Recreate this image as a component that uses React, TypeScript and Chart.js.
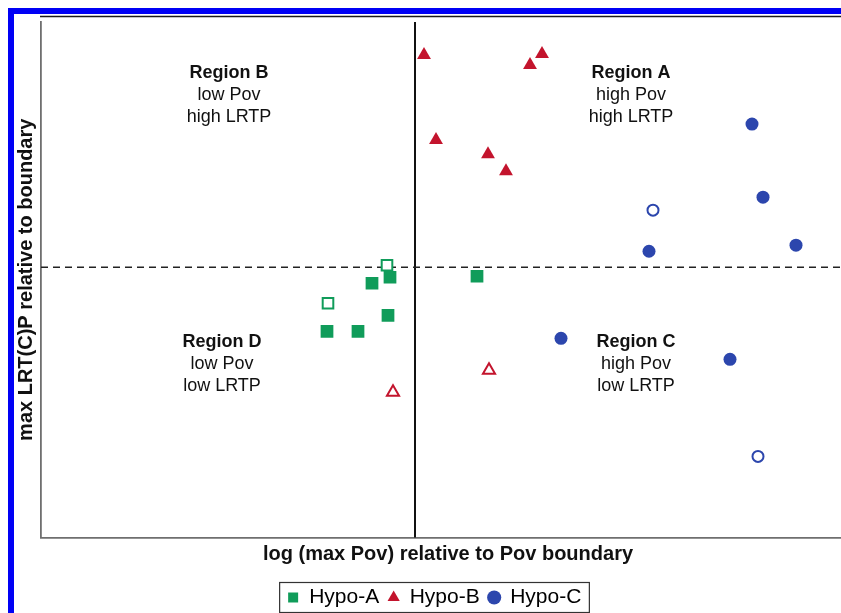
import { useEffect, useRef } from 'react';
import { Chart, registerables } from 'chart.js';

Chart.register(...registerables);

// ---- data (x: log(max Pov) relative to boundary, y: max LRT(C)P relative to boundary)
const seriesNames = ['Hypo-A', 'Hypo-B', 'Hypo-C'];

const hypoAX = [-0.43, -0.25, -0.88, -0.57, -0.27, 0.62, -0.28, -0.87];
const hypoAY = [-0.16, -0.10, -0.64, -0.64, -0.48, -0.09, 0.02, -0.36];
const hypoAOpen = [false, false, false, false, false, false, true, true];

const hypoBX = [0.09, 1.15, 1.27, 0.21, 0.73, 0.91, -0.22, 0.74];
const hypoBY = [2.12, 2.02, 2.13, 1.27, 1.13, 0.96, -1.25, -1.03];
const hypoBOpen = [false, false, false, false, false, false, true, true];

const hypoCX = [3.37, 3.48, 3.81, 2.34, 1.46, 3.15, 2.38, 3.43];
const hypoCY = [1.43, 0.70, 0.22, 0.16, -0.71, -0.92, 0.57, -1.89];
const hypoCOpen = [false, false, false, false, false, false, true, true];

const xRange = [-3.74, 4.40];
const yRange = [-2.70, 2.45];

const regionTitles = ['Region A', 'Region B', 'Region C', 'Region D'];
const regionLine1 = ['high Pov', 'low Pov', 'high Pov', 'low Pov'];
const regionLine2 = ['high LRTP', 'high LRTP', 'low LRTP', 'low LRTP'];
const regionX = [2.16, -1.86, 2.21, -1.93];
const regionY = [1.94, 1.94, -0.75, -0.75];

const xTitle = 'log (max Pov) relative to Pov boundary';
const yTitle = 'max LRT(C)P relative to boundary';

const FONT = '"Liberation Sans", Arial, Helvetica, sans-serif';
const GREEN = '#109c5a';
const RED = '#c3142d';
const BLUE = '#2c46ad';

const zip = (xs: number[], ys: number[]) => xs.map((x, i) => ({ x, y: ys[i] }));

const overlayPlugin = {
  id: 'overlay',
  beforeDatasetsDraw(chart: any) {
    const { ctx, chartArea: ca, scales } = chart;
    const xs = scales.x;
    const ys = scales.y;
    ctx.save();
    // top frame line
    ctx.strokeStyle = '#1a1a1a';
    ctx.lineWidth = 1.5;
    ctx.beginPath();
    ctx.moveTo(ca.left - 1, 2.5);
    ctx.lineTo(chart.width, 2.5);
    ctx.stroke();
    // vertical boundary
    const x0 = xs.getPixelForValue(0);
    ctx.strokeStyle = '#111';
    ctx.lineWidth = 2;
    ctx.beginPath();
    ctx.moveTo(x0, ca.top);
    ctx.lineTo(x0, ca.bottom);
    ctx.stroke();
    // dashed horizontal boundary
    const y0 = ys.getPixelForValue(0);
    ctx.setLineDash([7, 5]);
    ctx.lineWidth = 1.5;
    ctx.strokeStyle = '#222';
    ctx.beginPath();
    ctx.moveTo(ca.left, y0);
    ctx.lineTo(ca.right, y0);
    ctx.stroke();
    ctx.setLineDash([]);
    // region labels
    ctx.fillStyle = '#111';
    ctx.textAlign = 'center';
    ctx.textBaseline = 'middle';
    regionTitles.forEach((t, i) => {
      const px = xs.getPixelForValue(regionX[i]);
      const py = ys.getPixelForValue(regionY[i]);
      ctx.font = `bold 18px ${FONT}`;
      ctx.fillText(t, px, py);
      ctx.font = `18px ${FONT}`;
      ctx.fillText(regionLine1[i], px, py + 22);
      ctx.fillText(regionLine2[i], px, py + 44);
    });
    ctx.restore();
  },
  afterDraw(chart: any) {
    const lg = chart.legend;
    if (!lg || !lg.legendHitBoxes || !lg.legendHitBoxes.length) return;
    const boxes = lg.legendHitBoxes;
    const left = Math.min(...boxes.map((b: any) => b.left));
    const right = Math.max(...boxes.map((b: any) => b.left + b.width));
    const top = Math.min(...boxes.map((b: any) => b.top));
    const bottom = Math.max(...boxes.map((b: any) => b.top + b.height));
    const { ctx } = chart;
    ctx.save();
    ctx.strokeStyle = '#333';
    ctx.lineWidth = 1.2;
    ctx.strokeRect(left - 8, top - 4.5, right - left + 16, bottom - top + 9);
    ctx.restore();
  },
};

export default function App() {
  const ref = useRef<HTMLCanvasElement | null>(null);

  useEffect(() => {
    if (!ref.current) return;
    const mk = (label: string, xs: number[], ys: number[], open: boolean[], color: string, style: string, rFilled: number, rOpen: number) => ({
      label,
      data: zip(xs, ys),
      showLine: false,
      pointStyle: style,
      pointRadius: (c: any) => (open[c.dataIndex] ? rOpen : rFilled),
      pointBackgroundColor: (c: any) => (open[c.dataIndex] ? '#ffffff' : color),
      pointBorderColor: color,
      pointBorderWidth: (c: any) => (open[c.dataIndex] ? 2 : 0),
      backgroundColor: color,
      borderColor: color,
      borderWidth: 0,
    });
    const chart = new Chart(ref.current, {
      type: 'scatter',
      data: {
        datasets: [
          mk(seriesNames[0], hypoAX, hypoAY, hypoAOpen, GREEN, 'rect', 9, 7.5),
          mk(seriesNames[1], hypoBX, hypoBY, hypoBOpen, RED, 'triangle', 8, 7),
          mk(seriesNames[2], hypoCX, hypoCY, hypoCOpen, BLUE, 'circle', 6.5, 5.5),
        ] as any,
      },
      options: {
        animation: false,
        responsive: false,
        events: [],
        layout: { autoPadding: false, padding: { top: 8, left: 0, right: 0, bottom: 0 } },
        scales: {
          x: {
            type: 'linear',
            min: xRange[0],
            max: xRange[1],
            grid: { display: false, drawTicks: false },
            border: { display: true, color: '#6f6f6f', width: 1.8 },
            ticks: { display: false },
            title: {
              display: true,
              text: xTitle,
              color: '#111',
              font: { family: FONT, size: 20, weight: 'bold' },
              padding: { top: 5, bottom: 11.5 },
            },
          },
          y: {
            type: 'linear',
            min: yRange[0],
            max: yRange[1],
            grid: { display: false, drawTicks: false },
            border: { display: true, color: '#6f6f6f', width: 1.8 },
            ticks: { display: false },
            title: {
              display: true,
              text: yTitle,
              color: '#111',
              font: { family: FONT, size: 20, weight: 'bold' },
              padding: { top: 0, bottom: 3 },
            },
          },
        },
        plugins: {
          legend: {
            display: true,
            position: 'bottom',
            labels: {
              usePointStyle: true,
              boxWidth: 11,
              boxHeight: 10,
              padding: 9,
              color: '#000',
              font: { family: FONT, size: 21 },
            },
          },
          tooltip: { enabled: false },
        },
      } as any,
      plugins: [overlayPlugin],
    });
    return () => chart.destroy();
  }, []);

  return (
    <div
      style={{
        position: 'absolute',
        left: 8,
        top: 8,
        borderLeft: '6px solid #0000f5',
        borderTop: '6px solid #0000f5',
        width: 827,
        height: 599,
        overflow: 'hidden',
        background: '#fff',
      }}
    >
      <canvas ref={ref} width={841} height={604} style={{ display: 'block', width: 841, height: 604 }} />
    </div>
  );
}
